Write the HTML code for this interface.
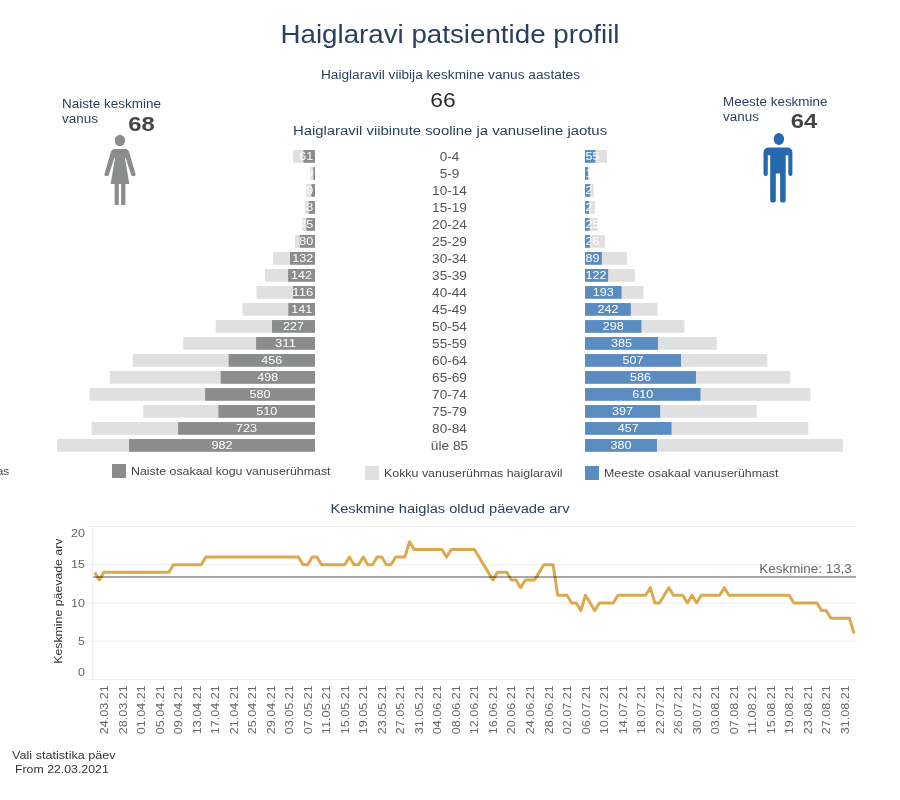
<!DOCTYPE html>
<html lang="et"><head><meta charset="utf-8"><title>Haiglaravi patsientide profiil</title>
<style>html,body{margin:0;padding:0;background:#fff;}body{width:900px;height:800px;overflow:hidden;font-family:"Liberation Sans", sans-serif;}svg{display:block;font-family:"Liberation Sans", sans-serif;will-change:transform;}</style>
</head><body>
<svg width="900" height="800" viewBox="0 0 900 800">
<rect width="900" height="800" fill="#ffffff"/>
<text x="450.00" y="43.00" font-size="24.96" fill="#2a3f5f" text-anchor="middle" textLength="339.04" lengthAdjust="spacingAndGlyphs">Haiglaravi patsientide profiil</text>
<text x="450.50" y="79.00" font-size="12.48" fill="#2a3f5f" text-anchor="middle" textLength="259.13" lengthAdjust="spacingAndGlyphs">Haiglaravil viibija keskmine vanus aastates</text>
<text x="443.00" y="106.70" font-size="20.80" fill="#2b2b2b" text-anchor="middle" textLength="25.45" lengthAdjust="spacingAndGlyphs">66</text>
<text x="450.00" y="135.00" font-size="13.52" fill="#2a3f5f" text-anchor="middle" textLength="314.17" lengthAdjust="spacingAndGlyphs">Haiglaravil viibinute sooline ja vanuseline jaotus</text>
<text x="62.00" y="107.50" font-size="12.48" fill="#2a3f5f" textLength="98.94" lengthAdjust="spacingAndGlyphs">Naiste keskmine</text>
<text x="62.00" y="122.50" font-size="12.48" fill="#2a3f5f" textLength="35.92" lengthAdjust="spacingAndGlyphs">vanus</text>
<text x="128.30" y="130.60" font-size="20.80" fill="#444444" font-weight="bold" textLength="26.44" lengthAdjust="spacingAndGlyphs">68</text>
<text x="723.00" y="106.00" font-size="12.48" fill="#2a3f5f" textLength="104.39" lengthAdjust="spacingAndGlyphs">Meeste keskmine</text>
<text x="723.00" y="121.00" font-size="12.48" fill="#2a3f5f" textLength="35.92" lengthAdjust="spacingAndGlyphs">vanus</text>
<text x="790.80" y="128.00" font-size="20.80" fill="#444444" font-weight="bold" textLength="26.44" lengthAdjust="spacingAndGlyphs">64</text>
<g fill="#8b8d8d" filter="url(#b)">
<ellipse cx="119.9" cy="140.5" rx="5.2" ry="5.8"/>
<path d="M114.5 149 L125.5 149 Q128.3 149 129.3 152.6 L135.6 174.3 Q136 176 134 176 L132.5 176 Q131.5 176 131.2 175 L125.6 157.7 L125 158.5 L129.3 184.1 L125.4 184.1 L125.4 205 L121.1 205 L121.1 184.1 L118.8 184.1 L118.8 205 L114.7 205 L114.7 184.1 L110.6 184.1 L115 158.5 L114.4 157.7 L108.8 175 Q108.5 176 107.5 176 L106 176 Q104 176 104.4 174.3 L110.7 152.6 Q111.7 149 114.5 149 Z"/>
</g>
<g fill="#2867ad" filter="url(#b)">
<ellipse cx="778.9" cy="139.1" rx="5.2" ry="6"/>
<path d="M769 147.5 L786.9 147.5 Q792.4 147.5 792.4 153 L792.4 174 Q792.4 175.9 790.4 175.9 Q788.3 175.9 788.3 174 L788.3 155.2 L785.7 155.2 L785.7 200.4 Q785.7 202.6 783.2 202.6 L782.6 202.6 Q780.1 202.6 780.1 200.4 L780.1 173.6 L775.8 173.6 L775.8 200.4 Q775.8 202.6 773.3 202.6 L772.7 202.6 Q770.2 202.6 770.2 200.4 L770.2 155.2 L767.8 155.2 L767.8 174 Q767.8 175.9 765.7 175.9 Q763.5 175.9 763.5 174 L763.5 153 Q763.5 147.5 769 147.5 Z"/>
</g>
<defs><filter id="b" x="-20%" y="-20%" width="140%" height="140%"><feGaussianBlur stdDeviation="0.6"/></filter></defs>
<rect x="293.04" y="150.05" width="21.96" height="12.7" fill="#e0e0e0"/>
<rect x="303.45" y="150.05" width="11.55" height="12.7" fill="#8b8d8d"/>
<rect x="585" y="150.05" width="21.96" height="12.7" fill="#e0e0e0"/>
<rect x="585" y="150.05" width="10.41" height="12.7" fill="#5b8cc0"/>
<text x="313.30" y="160.40" font-size="11.44" fill="#ffffff" text-anchor="end" textLength="14.00" lengthAdjust="spacingAndGlyphs">61</text>
<text x="585.40" y="160.40" font-size="11.44" fill="#ffffff" textLength="14.00" lengthAdjust="spacingAndGlyphs">55</text>
<text x="449.50" y="160.80" font-size="12.48" fill="#555555" text-anchor="middle" textLength="19.60" lengthAdjust="spacingAndGlyphs">0-4</text>
<rect x="310.21" y="167.05" width="4.79" height="12.7" fill="#e0e0e0"/>
<rect x="313.30" y="167.05" width="1.70" height="12.7" fill="#8b8d8d"/>
<rect x="585" y="167.05" width="4.79" height="12.7" fill="#e0e0e0"/>
<rect x="585" y="167.05" width="3.03" height="12.7" fill="#5b8cc0"/>
<text x="313.30" y="177.40" font-size="11.44" fill="#ffffff" text-anchor="end" textLength="7.00" lengthAdjust="spacingAndGlyphs">9</text>
<text x="585.40" y="177.40" font-size="11.44" fill="#ffffff" textLength="14.00" lengthAdjust="spacingAndGlyphs">16</text>
<text x="449.50" y="177.80" font-size="12.48" fill="#555555" text-anchor="middle" textLength="19.60" lengthAdjust="spacingAndGlyphs">5-9</text>
<rect x="306.29" y="184.05" width="8.71" height="12.7" fill="#e0e0e0"/>
<rect x="311.40" y="184.05" width="3.60" height="12.7" fill="#8b8d8d"/>
<rect x="585" y="184.05" width="8.71" height="12.7" fill="#e0e0e0"/>
<rect x="585" y="184.05" width="5.11" height="12.7" fill="#5b8cc0"/>
<text x="313.30" y="194.40" font-size="11.44" fill="#ffffff" text-anchor="end" textLength="14.00" lengthAdjust="spacingAndGlyphs">19</text>
<text x="585.40" y="194.40" font-size="11.44" fill="#ffffff" textLength="14.00" lengthAdjust="spacingAndGlyphs">27</text>
<text x="449.50" y="194.80" font-size="12.48" fill="#555555" text-anchor="middle" textLength="34.87" lengthAdjust="spacingAndGlyphs">10-14</text>
<rect x="305.06" y="201.05" width="9.94" height="12.7" fill="#e0e0e0"/>
<rect x="308.75" y="201.05" width="6.25" height="12.7" fill="#8b8d8d"/>
<rect x="585" y="201.05" width="9.94" height="12.7" fill="#e0e0e0"/>
<rect x="585" y="201.05" width="3.98" height="12.7" fill="#5b8cc0"/>
<text x="313.30" y="211.40" font-size="11.44" fill="#ffffff" text-anchor="end" textLength="14.00" lengthAdjust="spacingAndGlyphs">33</text>
<text x="585.40" y="211.40" font-size="11.44" fill="#ffffff" textLength="14.00" lengthAdjust="spacingAndGlyphs">21</text>
<text x="449.50" y="211.80" font-size="12.48" fill="#555555" text-anchor="middle" textLength="34.87" lengthAdjust="spacingAndGlyphs">15-19</text>
<rect x="302.22" y="218.05" width="12.78" height="12.7" fill="#e0e0e0"/>
<rect x="306.48" y="218.05" width="8.52" height="12.7" fill="#8b8d8d"/>
<rect x="585" y="218.05" width="12.78" height="12.7" fill="#e0e0e0"/>
<rect x="585" y="218.05" width="4.73" height="12.7" fill="#5b8cc0"/>
<text x="313.30" y="228.40" font-size="11.44" fill="#ffffff" text-anchor="end" textLength="14.00" lengthAdjust="spacingAndGlyphs">45</text>
<text x="585.40" y="228.40" font-size="11.44" fill="#ffffff" textLength="14.00" lengthAdjust="spacingAndGlyphs">25</text>
<text x="449.50" y="228.80" font-size="12.48" fill="#555555" text-anchor="middle" textLength="34.87" lengthAdjust="spacingAndGlyphs">20-24</text>
<rect x="295.02" y="235.05" width="19.98" height="12.7" fill="#e0e0e0"/>
<rect x="299.85" y="235.05" width="15.15" height="12.7" fill="#8b8d8d"/>
<rect x="585" y="235.05" width="19.98" height="12.7" fill="#e0e0e0"/>
<rect x="585" y="235.05" width="4.92" height="12.7" fill="#5b8cc0"/>
<text x="313.30" y="245.40" font-size="11.44" fill="#ffffff" text-anchor="end" textLength="14.00" lengthAdjust="spacingAndGlyphs">80</text>
<text x="585.40" y="245.40" font-size="11.44" fill="#ffffff" textLength="14.00" lengthAdjust="spacingAndGlyphs">26</text>
<text x="449.50" y="245.80" font-size="12.48" fill="#555555" text-anchor="middle" textLength="34.87" lengthAdjust="spacingAndGlyphs">25-29</text>
<rect x="273.15" y="252.05" width="41.85" height="12.7" fill="#e0e0e0"/>
<rect x="290.01" y="252.05" width="24.99" height="12.7" fill="#8b8d8d"/>
<rect x="585" y="252.05" width="41.85" height="12.7" fill="#e0e0e0"/>
<rect x="585" y="252.05" width="16.85" height="12.7" fill="#5b8cc0"/>
<text x="313.30" y="262.40" font-size="11.44" fill="#ffffff" text-anchor="end" textLength="21.00" lengthAdjust="spacingAndGlyphs">132</text>
<text x="585.40" y="262.40" font-size="11.44" fill="#ffffff" textLength="14.00" lengthAdjust="spacingAndGlyphs">89</text>
<text x="449.50" y="262.80" font-size="12.48" fill="#555555" text-anchor="middle" textLength="34.87" lengthAdjust="spacingAndGlyphs">30-34</text>
<rect x="265.01" y="269.05" width="49.99" height="12.7" fill="#e0e0e0"/>
<rect x="288.11" y="269.05" width="26.89" height="12.7" fill="#8b8d8d"/>
<rect x="585" y="269.05" width="49.99" height="12.7" fill="#e0e0e0"/>
<rect x="585" y="269.05" width="23.10" height="12.7" fill="#5b8cc0"/>
<text x="301.56" y="279.40" font-size="11.44" fill="#ffffff" text-anchor="middle" textLength="21.00" lengthAdjust="spacingAndGlyphs">142</text>
<text x="585.40" y="279.40" font-size="11.44" fill="#ffffff" textLength="21.00" lengthAdjust="spacingAndGlyphs">122</text>
<text x="449.50" y="279.80" font-size="12.48" fill="#555555" text-anchor="middle" textLength="34.87" lengthAdjust="spacingAndGlyphs">35-39</text>
<rect x="256.49" y="286.05" width="58.51" height="12.7" fill="#e0e0e0"/>
<rect x="293.04" y="286.05" width="21.96" height="12.7" fill="#8b8d8d"/>
<rect x="585" y="286.05" width="58.51" height="12.7" fill="#e0e0e0"/>
<rect x="585" y="286.05" width="36.54" height="12.7" fill="#5b8cc0"/>
<text x="313.30" y="296.40" font-size="11.44" fill="#ffffff" text-anchor="end" textLength="21.00" lengthAdjust="spacingAndGlyphs">116</text>
<text x="603.27" y="296.40" font-size="11.44" fill="#ffffff" text-anchor="middle" textLength="21.00" lengthAdjust="spacingAndGlyphs">193</text>
<text x="449.50" y="296.80" font-size="12.48" fill="#555555" text-anchor="middle" textLength="34.87" lengthAdjust="spacingAndGlyphs">40-44</text>
<rect x="242.48" y="303.05" width="72.52" height="12.7" fill="#e0e0e0"/>
<rect x="288.30" y="303.05" width="26.70" height="12.7" fill="#8b8d8d"/>
<rect x="585" y="303.05" width="72.52" height="12.7" fill="#e0e0e0"/>
<rect x="585" y="303.05" width="45.82" height="12.7" fill="#5b8cc0"/>
<text x="301.65" y="313.40" font-size="11.44" fill="#ffffff" text-anchor="middle" textLength="21.00" lengthAdjust="spacingAndGlyphs">141</text>
<text x="607.91" y="313.40" font-size="11.44" fill="#ffffff" text-anchor="middle" textLength="21.00" lengthAdjust="spacingAndGlyphs">242</text>
<text x="449.50" y="313.80" font-size="12.48" fill="#555555" text-anchor="middle" textLength="34.87" lengthAdjust="spacingAndGlyphs">45-49</text>
<rect x="215.59" y="320.05" width="99.41" height="12.7" fill="#e0e0e0"/>
<rect x="272.02" y="320.05" width="42.98" height="12.7" fill="#8b8d8d"/>
<rect x="585" y="320.05" width="99.41" height="12.7" fill="#e0e0e0"/>
<rect x="585" y="320.05" width="56.43" height="12.7" fill="#5b8cc0"/>
<text x="293.51" y="330.40" font-size="11.44" fill="#ffffff" text-anchor="middle" textLength="21.00" lengthAdjust="spacingAndGlyphs">227</text>
<text x="613.21" y="330.40" font-size="11.44" fill="#ffffff" text-anchor="middle" textLength="21.00" lengthAdjust="spacingAndGlyphs">298</text>
<text x="449.50" y="330.80" font-size="12.48" fill="#555555" text-anchor="middle" textLength="34.87" lengthAdjust="spacingAndGlyphs">50-54</text>
<rect x="183.21" y="337.05" width="131.79" height="12.7" fill="#e0e0e0"/>
<rect x="256.11" y="337.05" width="58.89" height="12.7" fill="#8b8d8d"/>
<rect x="585" y="337.05" width="131.79" height="12.7" fill="#e0e0e0"/>
<rect x="585" y="337.05" width="72.90" height="12.7" fill="#5b8cc0"/>
<text x="285.56" y="347.40" font-size="11.44" fill="#ffffff" text-anchor="middle" textLength="21.00" lengthAdjust="spacingAndGlyphs">311</text>
<text x="621.45" y="347.40" font-size="11.44" fill="#ffffff" text-anchor="middle" textLength="21.00" lengthAdjust="spacingAndGlyphs">385</text>
<text x="449.50" y="347.80" font-size="12.48" fill="#555555" text-anchor="middle" textLength="34.87" lengthAdjust="spacingAndGlyphs">55-59</text>
<rect x="132.66" y="354.05" width="182.34" height="12.7" fill="#e0e0e0"/>
<rect x="228.66" y="354.05" width="86.34" height="12.7" fill="#8b8d8d"/>
<rect x="585" y="354.05" width="182.34" height="12.7" fill="#e0e0e0"/>
<rect x="585" y="354.05" width="96.00" height="12.7" fill="#5b8cc0"/>
<text x="271.83" y="364.40" font-size="11.44" fill="#ffffff" text-anchor="middle" textLength="21.00" lengthAdjust="spacingAndGlyphs">456</text>
<text x="633.00" y="364.40" font-size="11.44" fill="#ffffff" text-anchor="middle" textLength="21.00" lengthAdjust="spacingAndGlyphs">507</text>
<text x="449.50" y="364.80" font-size="12.48" fill="#555555" text-anchor="middle" textLength="34.87" lengthAdjust="spacingAndGlyphs">60-64</text>
<rect x="109.74" y="371.05" width="205.26" height="12.7" fill="#e0e0e0"/>
<rect x="220.70" y="371.05" width="94.30" height="12.7" fill="#8b8d8d"/>
<rect x="585" y="371.05" width="205.26" height="12.7" fill="#e0e0e0"/>
<rect x="585" y="371.05" width="110.96" height="12.7" fill="#5b8cc0"/>
<text x="267.85" y="381.40" font-size="11.44" fill="#ffffff" text-anchor="middle" textLength="21.00" lengthAdjust="spacingAndGlyphs">498</text>
<text x="640.48" y="381.40" font-size="11.44" fill="#ffffff" text-anchor="middle" textLength="21.00" lengthAdjust="spacingAndGlyphs">586</text>
<text x="449.50" y="381.80" font-size="12.48" fill="#555555" text-anchor="middle" textLength="34.87" lengthAdjust="spacingAndGlyphs">65-69</text>
<rect x="89.67" y="388.05" width="225.33" height="12.7" fill="#e0e0e0"/>
<rect x="205.18" y="388.05" width="109.82" height="12.7" fill="#8b8d8d"/>
<rect x="585" y="388.05" width="225.33" height="12.7" fill="#e0e0e0"/>
<rect x="585" y="388.05" width="115.50" height="12.7" fill="#5b8cc0"/>
<text x="260.09" y="398.40" font-size="11.44" fill="#ffffff" text-anchor="middle" textLength="21.00" lengthAdjust="spacingAndGlyphs">580</text>
<text x="642.75" y="398.40" font-size="11.44" fill="#ffffff" text-anchor="middle" textLength="21.00" lengthAdjust="spacingAndGlyphs">610</text>
<text x="449.50" y="398.80" font-size="12.48" fill="#555555" text-anchor="middle" textLength="34.87" lengthAdjust="spacingAndGlyphs">70-74</text>
<rect x="143.26" y="405.05" width="171.74" height="12.7" fill="#e0e0e0"/>
<rect x="218.43" y="405.05" width="96.57" height="12.7" fill="#8b8d8d"/>
<rect x="585" y="405.05" width="171.74" height="12.7" fill="#e0e0e0"/>
<rect x="585" y="405.05" width="75.17" height="12.7" fill="#5b8cc0"/>
<text x="266.72" y="415.40" font-size="11.44" fill="#ffffff" text-anchor="middle" textLength="21.00" lengthAdjust="spacingAndGlyphs">510</text>
<text x="622.59" y="415.40" font-size="11.44" fill="#ffffff" text-anchor="middle" textLength="21.00" lengthAdjust="spacingAndGlyphs">397</text>
<text x="449.50" y="415.80" font-size="12.48" fill="#555555" text-anchor="middle" textLength="34.87" lengthAdjust="spacingAndGlyphs">75-79</text>
<rect x="91.57" y="422.05" width="223.43" height="12.7" fill="#e0e0e0"/>
<rect x="178.10" y="422.05" width="136.90" height="12.7" fill="#8b8d8d"/>
<rect x="585" y="422.05" width="223.43" height="12.7" fill="#e0e0e0"/>
<rect x="585" y="422.05" width="86.53" height="12.7" fill="#5b8cc0"/>
<text x="246.55" y="432.40" font-size="11.44" fill="#ffffff" text-anchor="middle" textLength="21.00" lengthAdjust="spacingAndGlyphs">723</text>
<text x="628.27" y="432.40" font-size="11.44" fill="#ffffff" text-anchor="middle" textLength="21.00" lengthAdjust="spacingAndGlyphs">457</text>
<text x="449.50" y="432.80" font-size="12.48" fill="#555555" text-anchor="middle" textLength="34.87" lengthAdjust="spacingAndGlyphs">80-84</text>
<rect x="57.11" y="439.05" width="257.89" height="12.7" fill="#e0e0e0"/>
<rect x="129.06" y="439.05" width="185.94" height="12.7" fill="#8b8d8d"/>
<rect x="585" y="439.05" width="257.89" height="12.7" fill="#e0e0e0"/>
<rect x="585" y="439.05" width="71.95" height="12.7" fill="#5b8cc0"/>
<text x="222.03" y="449.40" font-size="11.44" fill="#ffffff" text-anchor="middle" textLength="21.00" lengthAdjust="spacingAndGlyphs">982</text>
<text x="620.98" y="449.40" font-size="11.44" fill="#ffffff" text-anchor="middle" textLength="21.00" lengthAdjust="spacingAndGlyphs">380</text>
<text x="449.50" y="449.80" font-size="12.48" fill="#555555" text-anchor="middle" textLength="37.41" lengthAdjust="spacingAndGlyphs">üle 85</text>
<text x="-3.30" y="474.70" font-size="11.44" fill="#444444" textLength="12.47" lengthAdjust="spacingAndGlyphs">as</text>
<rect x="112" y="464" width="14" height="14" fill="#8b8d8d"/>
<text x="131.00" y="475.00" font-size="11.44" fill="#444444" textLength="199.56" lengthAdjust="spacingAndGlyphs">Naiste osakaal kogu vanuserühmast</text>
<rect x="365" y="466" width="14" height="14" fill="#e0e0e0"/>
<text x="384.00" y="477.00" font-size="11.44" fill="#444444" textLength="178.54" lengthAdjust="spacingAndGlyphs">Kokku vanuserühmas haiglaravil</text>
<rect x="585" y="466" width="14" height="14" fill="#5b8cc0"/>
<text x="604.00" y="477.00" font-size="11.44" fill="#444444" textLength="174.40" lengthAdjust="spacingAndGlyphs">Meeste osakaal vanuserühmast</text>
<text x="450.00" y="513.00" font-size="13.52" fill="#2a3f5f" text-anchor="middle" textLength="239.08" lengthAdjust="spacingAndGlyphs">Keskmine haiglas oldud päevade arv</text>
<line x1="87" x2="856" y1="679.40" y2="679.40" stroke="#efefef" stroke-width="1"/>
<line x1="87" x2="856" y1="641.17" y2="641.17" stroke="#efefef" stroke-width="1"/>
<line x1="87" x2="856" y1="602.95" y2="602.95" stroke="#efefef" stroke-width="1"/>
<line x1="87" x2="856" y1="564.73" y2="564.73" stroke="#efefef" stroke-width="1"/>
<line x1="87" x2="856" y1="526.50" y2="526.50" stroke="#efefef" stroke-width="1"/>
<line x1="92.6" x2="92.6" y1="526.00" y2="679.9" stroke="#eeeeee" stroke-width="1"/>
<text x="85.00" y="537.20" font-size="11.44" fill="#666666" text-anchor="end" textLength="14.00" lengthAdjust="spacingAndGlyphs">20</text>
<text x="85.00" y="568.30" font-size="11.44" fill="#666666" text-anchor="end" textLength="14.00" lengthAdjust="spacingAndGlyphs">15</text>
<text x="85.00" y="607.00" font-size="11.44" fill="#666666" text-anchor="end" textLength="14.00" lengthAdjust="spacingAndGlyphs">10</text>
<text x="85.00" y="645.30" font-size="11.44" fill="#666666" text-anchor="end" textLength="7.00" lengthAdjust="spacingAndGlyphs">5</text>
<text x="85.00" y="676.20" font-size="11.44" fill="#666666" text-anchor="end" textLength="7.00" lengthAdjust="spacingAndGlyphs">0</text>
<text x="62.30" y="663.80" font-size="11.44" fill="#333333" textLength="125.30" lengthAdjust="spacingAndGlyphs" transform="rotate(-90 62.30 663.80)">Keskmine päevade arv</text>
<polyline points="94.70,572.37 99.33,580.01 103.96,572.37 108.59,572.37 113.22,572.37 117.85,572.37 122.48,572.37 127.11,572.37 131.74,572.37 136.37,572.37 141.00,572.37 145.63,572.37 150.26,572.37 154.89,572.37 159.52,572.37 164.15,572.37 168.78,572.37 173.41,564.73 178.04,564.73 182.67,564.73 187.30,564.73 191.93,564.73 196.56,564.73 201.19,564.73 205.82,557.08 210.45,557.08 215.08,557.08 219.71,557.08 224.34,557.08 228.97,557.08 233.60,557.08 238.23,557.08 242.86,557.08 247.49,557.08 252.12,557.08 256.75,557.08 261.38,557.08 266.01,557.08 270.64,557.08 275.27,557.08 279.90,557.08 284.53,557.08 289.16,557.08 293.79,557.08 298.42,557.08 303.05,564.73 307.68,564.73 312.31,557.08 316.94,557.08 321.57,564.73 326.20,564.73 330.83,564.73 335.46,564.73 340.09,564.73 344.72,564.73 349.35,557.08 353.98,564.73 358.61,564.73 363.24,557.08 367.87,564.73 372.50,564.73 377.13,557.08 381.76,557.08 386.39,564.73 391.02,564.73 395.65,557.08 400.28,557.08 404.91,557.08 409.54,541.79 414.17,549.43 418.80,549.43 423.43,549.43 428.06,549.43 432.69,549.43 437.32,549.43 441.95,549.43 446.58,557.08 451.21,549.43 455.84,549.43 460.47,549.43 465.10,549.43 469.73,549.43 474.36,549.43 478.99,557.08 483.62,564.73 488.25,572.37 492.88,580.01 497.51,572.37 502.14,572.37 506.77,572.37 511.40,580.01 516.03,580.01 520.66,587.66 525.29,580.01 529.92,580.01 534.55,580.01 539.18,572.37 543.81,564.73 548.44,564.73 553.07,564.73 557.70,595.30 562.33,595.30 566.96,595.30 571.59,602.95 576.22,602.95 580.85,610.60 585.48,595.30 590.11,602.95 594.74,610.60 599.37,602.95 604.00,602.95 608.63,602.95 613.26,602.95 617.89,595.30 622.52,595.30 627.15,595.30 631.78,595.30 636.41,595.30 641.04,595.30 645.67,595.30 650.30,587.66 654.93,602.95 659.56,602.95 664.19,595.30 668.82,587.66 673.45,595.30 678.08,595.30 682.71,595.30 687.34,602.95 691.97,595.30 696.60,602.95 701.23,595.30 705.86,595.30 710.49,595.30 715.12,595.30 719.75,595.30 724.38,587.66 729.01,595.30 733.64,595.30 738.27,595.30 742.90,595.30 747.53,595.30 752.16,595.30 756.79,595.30 761.42,595.30 766.05,595.30 770.68,595.30 775.31,595.30 779.94,595.30 784.57,595.30 789.20,595.30 793.83,602.95 798.46,602.95 803.09,602.95 807.72,602.95 812.35,602.95 816.98,602.95 821.61,610.60 826.24,610.60 830.87,618.24 835.50,618.24 840.13,618.24 844.76,618.24 849.39,618.24 854.02,633.53" fill="none" stroke="#dcaa4c" stroke-width="3" stroke-linejoin="round" stroke-linecap="butt"/>
<line x1="93.1" x2="856" y1="577" y2="577" stroke="#000000" stroke-opacity="0.34" stroke-width="2"/>
<text x="851.80" y="572.80" font-size="12.48" fill="#666666" text-anchor="end" textLength="92.44" lengthAdjust="spacingAndGlyphs">Keskmine: 13,3</text>
<text x="108.06" y="685.30" font-size="11.44" fill="#666666" text-anchor="end" textLength="48.98" lengthAdjust="spacingAndGlyphs" transform="rotate(-90 108.06 685.30)">24.03.21</text>
<text x="126.58" y="685.30" font-size="11.44" fill="#666666" text-anchor="end" textLength="48.98" lengthAdjust="spacingAndGlyphs" transform="rotate(-90 126.58 685.30)">28.03.21</text>
<text x="145.10" y="685.30" font-size="11.44" fill="#666666" text-anchor="end" textLength="48.98" lengthAdjust="spacingAndGlyphs" transform="rotate(-90 145.10 685.30)">01.04.21</text>
<text x="163.62" y="685.30" font-size="11.44" fill="#666666" text-anchor="end" textLength="48.98" lengthAdjust="spacingAndGlyphs" transform="rotate(-90 163.62 685.30)">05.04.21</text>
<text x="182.14" y="685.30" font-size="11.44" fill="#666666" text-anchor="end" textLength="48.98" lengthAdjust="spacingAndGlyphs" transform="rotate(-90 182.14 685.30)">09.04.21</text>
<text x="200.66" y="685.30" font-size="11.44" fill="#666666" text-anchor="end" textLength="48.98" lengthAdjust="spacingAndGlyphs" transform="rotate(-90 200.66 685.30)">13.04.21</text>
<text x="219.18" y="685.30" font-size="11.44" fill="#666666" text-anchor="end" textLength="48.98" lengthAdjust="spacingAndGlyphs" transform="rotate(-90 219.18 685.30)">17.04.21</text>
<text x="237.70" y="685.30" font-size="11.44" fill="#666666" text-anchor="end" textLength="48.98" lengthAdjust="spacingAndGlyphs" transform="rotate(-90 237.70 685.30)">21.04.21</text>
<text x="256.22" y="685.30" font-size="11.44" fill="#666666" text-anchor="end" textLength="48.98" lengthAdjust="spacingAndGlyphs" transform="rotate(-90 256.22 685.30)">25.04.21</text>
<text x="274.74" y="685.30" font-size="11.44" fill="#666666" text-anchor="end" textLength="48.98" lengthAdjust="spacingAndGlyphs" transform="rotate(-90 274.74 685.30)">29.04.21</text>
<text x="293.26" y="685.30" font-size="11.44" fill="#666666" text-anchor="end" textLength="48.98" lengthAdjust="spacingAndGlyphs" transform="rotate(-90 293.26 685.30)">03.05.21</text>
<text x="311.78" y="685.30" font-size="11.44" fill="#666666" text-anchor="end" textLength="48.98" lengthAdjust="spacingAndGlyphs" transform="rotate(-90 311.78 685.30)">07.05.21</text>
<text x="330.30" y="685.30" font-size="11.44" fill="#666666" text-anchor="end" textLength="48.98" lengthAdjust="spacingAndGlyphs" transform="rotate(-90 330.30 685.30)">11.05.21</text>
<text x="348.82" y="685.30" font-size="11.44" fill="#666666" text-anchor="end" textLength="48.98" lengthAdjust="spacingAndGlyphs" transform="rotate(-90 348.82 685.30)">15.05.21</text>
<text x="367.34" y="685.30" font-size="11.44" fill="#666666" text-anchor="end" textLength="48.98" lengthAdjust="spacingAndGlyphs" transform="rotate(-90 367.34 685.30)">19.05.21</text>
<text x="385.86" y="685.30" font-size="11.44" fill="#666666" text-anchor="end" textLength="48.98" lengthAdjust="spacingAndGlyphs" transform="rotate(-90 385.86 685.30)">23.05.21</text>
<text x="404.38" y="685.30" font-size="11.44" fill="#666666" text-anchor="end" textLength="48.98" lengthAdjust="spacingAndGlyphs" transform="rotate(-90 404.38 685.30)">27.05.21</text>
<text x="422.90" y="685.30" font-size="11.44" fill="#666666" text-anchor="end" textLength="48.98" lengthAdjust="spacingAndGlyphs" transform="rotate(-90 422.90 685.30)">31.05.21</text>
<text x="441.42" y="685.30" font-size="11.44" fill="#666666" text-anchor="end" textLength="48.98" lengthAdjust="spacingAndGlyphs" transform="rotate(-90 441.42 685.30)">04.06.21</text>
<text x="459.94" y="685.30" font-size="11.44" fill="#666666" text-anchor="end" textLength="48.98" lengthAdjust="spacingAndGlyphs" transform="rotate(-90 459.94 685.30)">08.06.21</text>
<text x="478.46" y="685.30" font-size="11.44" fill="#666666" text-anchor="end" textLength="48.98" lengthAdjust="spacingAndGlyphs" transform="rotate(-90 478.46 685.30)">12.06.21</text>
<text x="496.98" y="685.30" font-size="11.44" fill="#666666" text-anchor="end" textLength="48.98" lengthAdjust="spacingAndGlyphs" transform="rotate(-90 496.98 685.30)">16.06.21</text>
<text x="515.50" y="685.30" font-size="11.44" fill="#666666" text-anchor="end" textLength="48.98" lengthAdjust="spacingAndGlyphs" transform="rotate(-90 515.50 685.30)">20.06.21</text>
<text x="534.02" y="685.30" font-size="11.44" fill="#666666" text-anchor="end" textLength="48.98" lengthAdjust="spacingAndGlyphs" transform="rotate(-90 534.02 685.30)">24.06.21</text>
<text x="552.54" y="685.30" font-size="11.44" fill="#666666" text-anchor="end" textLength="48.98" lengthAdjust="spacingAndGlyphs" transform="rotate(-90 552.54 685.30)">28.06.21</text>
<text x="571.06" y="685.30" font-size="11.44" fill="#666666" text-anchor="end" textLength="48.98" lengthAdjust="spacingAndGlyphs" transform="rotate(-90 571.06 685.30)">02.07.21</text>
<text x="589.58" y="685.30" font-size="11.44" fill="#666666" text-anchor="end" textLength="48.98" lengthAdjust="spacingAndGlyphs" transform="rotate(-90 589.58 685.30)">06.07.21</text>
<text x="608.10" y="685.30" font-size="11.44" fill="#666666" text-anchor="end" textLength="48.98" lengthAdjust="spacingAndGlyphs" transform="rotate(-90 608.10 685.30)">10.07.21</text>
<text x="626.62" y="685.30" font-size="11.44" fill="#666666" text-anchor="end" textLength="48.98" lengthAdjust="spacingAndGlyphs" transform="rotate(-90 626.62 685.30)">14.07.21</text>
<text x="645.14" y="685.30" font-size="11.44" fill="#666666" text-anchor="end" textLength="48.98" lengthAdjust="spacingAndGlyphs" transform="rotate(-90 645.14 685.30)">18.07.21</text>
<text x="663.66" y="685.30" font-size="11.44" fill="#666666" text-anchor="end" textLength="48.98" lengthAdjust="spacingAndGlyphs" transform="rotate(-90 663.66 685.30)">22.07.21</text>
<text x="682.18" y="685.30" font-size="11.44" fill="#666666" text-anchor="end" textLength="48.98" lengthAdjust="spacingAndGlyphs" transform="rotate(-90 682.18 685.30)">26.07.21</text>
<text x="700.70" y="685.30" font-size="11.44" fill="#666666" text-anchor="end" textLength="48.98" lengthAdjust="spacingAndGlyphs" transform="rotate(-90 700.70 685.30)">30.07.21</text>
<text x="719.22" y="685.30" font-size="11.44" fill="#666666" text-anchor="end" textLength="48.98" lengthAdjust="spacingAndGlyphs" transform="rotate(-90 719.22 685.30)">03.08.21</text>
<text x="737.74" y="685.30" font-size="11.44" fill="#666666" text-anchor="end" textLength="48.98" lengthAdjust="spacingAndGlyphs" transform="rotate(-90 737.74 685.30)">07.08.21</text>
<text x="756.26" y="685.30" font-size="11.44" fill="#666666" text-anchor="end" textLength="48.98" lengthAdjust="spacingAndGlyphs" transform="rotate(-90 756.26 685.30)">11.08.21</text>
<text x="774.78" y="685.30" font-size="11.44" fill="#666666" text-anchor="end" textLength="48.98" lengthAdjust="spacingAndGlyphs" transform="rotate(-90 774.78 685.30)">15.08.21</text>
<text x="793.30" y="685.30" font-size="11.44" fill="#666666" text-anchor="end" textLength="48.98" lengthAdjust="spacingAndGlyphs" transform="rotate(-90 793.30 685.30)">19.08.21</text>
<text x="811.82" y="685.30" font-size="11.44" fill="#666666" text-anchor="end" textLength="48.98" lengthAdjust="spacingAndGlyphs" transform="rotate(-90 811.82 685.30)">23.08.21</text>
<text x="830.34" y="685.30" font-size="11.44" fill="#666666" text-anchor="end" textLength="48.98" lengthAdjust="spacingAndGlyphs" transform="rotate(-90 830.34 685.30)">27.08.21</text>
<text x="848.86" y="685.30" font-size="11.44" fill="#666666" text-anchor="end" textLength="48.98" lengthAdjust="spacingAndGlyphs" transform="rotate(-90 848.86 685.30)">31.08.21</text>
<text x="12.00" y="759.00" font-size="11.44" fill="#333333" textLength="103.69" lengthAdjust="spacingAndGlyphs">Vali statistika päev</text>
<text x="15.00" y="773.00" font-size="11.44" fill="#333333" textLength="93.73" lengthAdjust="spacingAndGlyphs">From 22.03.2021</text>
</svg></body></html>
